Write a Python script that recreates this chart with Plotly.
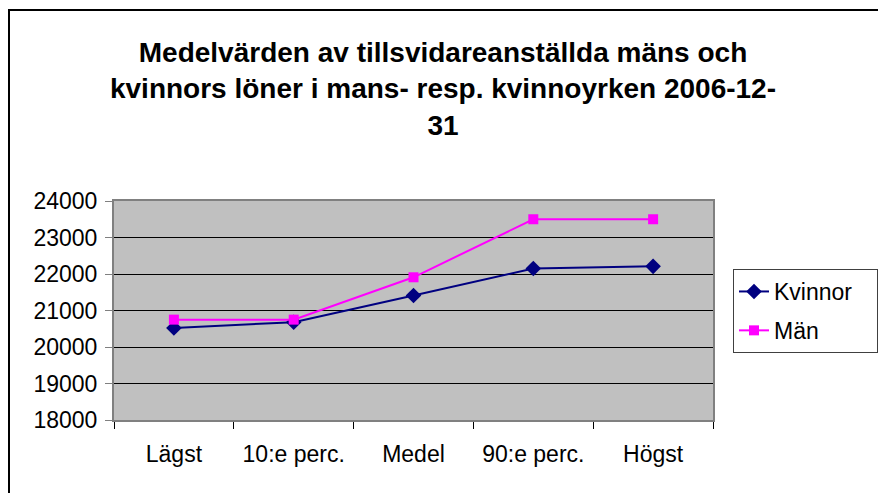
import plotly.graph_objects as go

categories = ["Lägst", "10:e perc.", "Medel", "90:e perc.", "Högst"]
kvinnor = [20520, 20680, 21410, 22150, 22210]
man = [20750, 20750, 21910, 23500, 23500]
y_ticks = [18000, 19000, 20000, 21000, 22000, 23000, 24000]
series_names = ["Kvinnor", "Män"]

# page body has an 8px margin; work in figure coordinates = page - 8
OFF = 8
W, H = 886, 493
L, R, T, B = 114 - OFF, 713 - OFF, 201 - OFF, 420 - OFF
PAD = "\u00a0" * 3  # legend box reaches the right edge in the reference

fig = go.Figure()
fig.add_trace(go.Scatter(
    x=categories, y=kvinnor, name=series_names[0] + PAD, mode="lines+markers",
    legendgroup="k",
    line=dict(color="#000080", width=2),
    marker=dict(symbol="diamond", size=12, color="#000080"),
))
fig.add_trace(go.Scatter(
    x=categories, y=man, name=series_names[1], mode="lines+markers",
    legendgroup="m",
    line=dict(color="#FF00FF", width=2),
    marker=dict(symbol="square", size=10, color="#FF00FF"),
))

def px(x):
    return (x - OFF - L) / (R - L)

def py(y):
    return (B - (y - OFF)) / (B - T)

fig.update_layout(
    width=W, height=H,
    margin=dict(l=L, r=W - R, t=T, b=H - B, autoexpand=False),
    paper_bgcolor="white",
    plot_bgcolor="#C0C0C0",
    font=dict(family="Liberation Sans, Arial, sans-serif", size=23, color="black"),
    title=dict(
        text="Medelvärden av tillsvidareanställda mäns och<br>kvinnors löner i mans- resp. kvinnoyrken 2006-12-<br>31",
        font=dict(family="Liberation Sans, Arial, sans-serif", size=28, color="black", weight="bold"),
        x=(443 - OFF) / W, xanchor="center", xref="container",
        y=1 - 54 / H, yanchor="top", yref="container",
    ),
    showlegend=True,
    legend=dict(
        x=px(733), y=py(269), xanchor="left", yanchor="top",
        bordercolor="#404040", borderwidth=1, bgcolor="white",
        font=dict(size=23),
        tracegroupgap=6,
    ),
    xaxis=dict(
        type="category", categoryorder="array", categoryarray=categories,
        range=[-0.5, len(categories) - 0.5],
        showgrid=False, showline=True, linecolor="#808080", linewidth=2, mirror=True,
        ticks="outside", tickson="boundaries", ticklen=7, tickcolor="black",
        ticklabelstandoff=12,
        tickfont=dict(size=23), fixedrange=True,
    ),
    yaxis=dict(
        range=[18000, 24000], tickvals=y_ticks, ticktext=[str(v) for v in y_ticks],
        showgrid=True, gridcolor="black", gridwidth=1,
        showline=True, linecolor="#808080", linewidth=2, mirror=True,
        ticks="outside", ticklen=7, tickcolor="#808080",
        ticklabelstandoff=3,
        tickfont=dict(size=23), zeroline=False,
    ),
    shapes=[dict(
        type="rect", xref="paper", yref="paper",
        x0=px(OFF + 1), x1=px(885), y0=py(H + 20), y1=py(10),
        line=dict(color="black", width=2), fillcolor="rgba(0,0,0,0)", layer="above",
    )],
)

fig.write_html("out.html")
